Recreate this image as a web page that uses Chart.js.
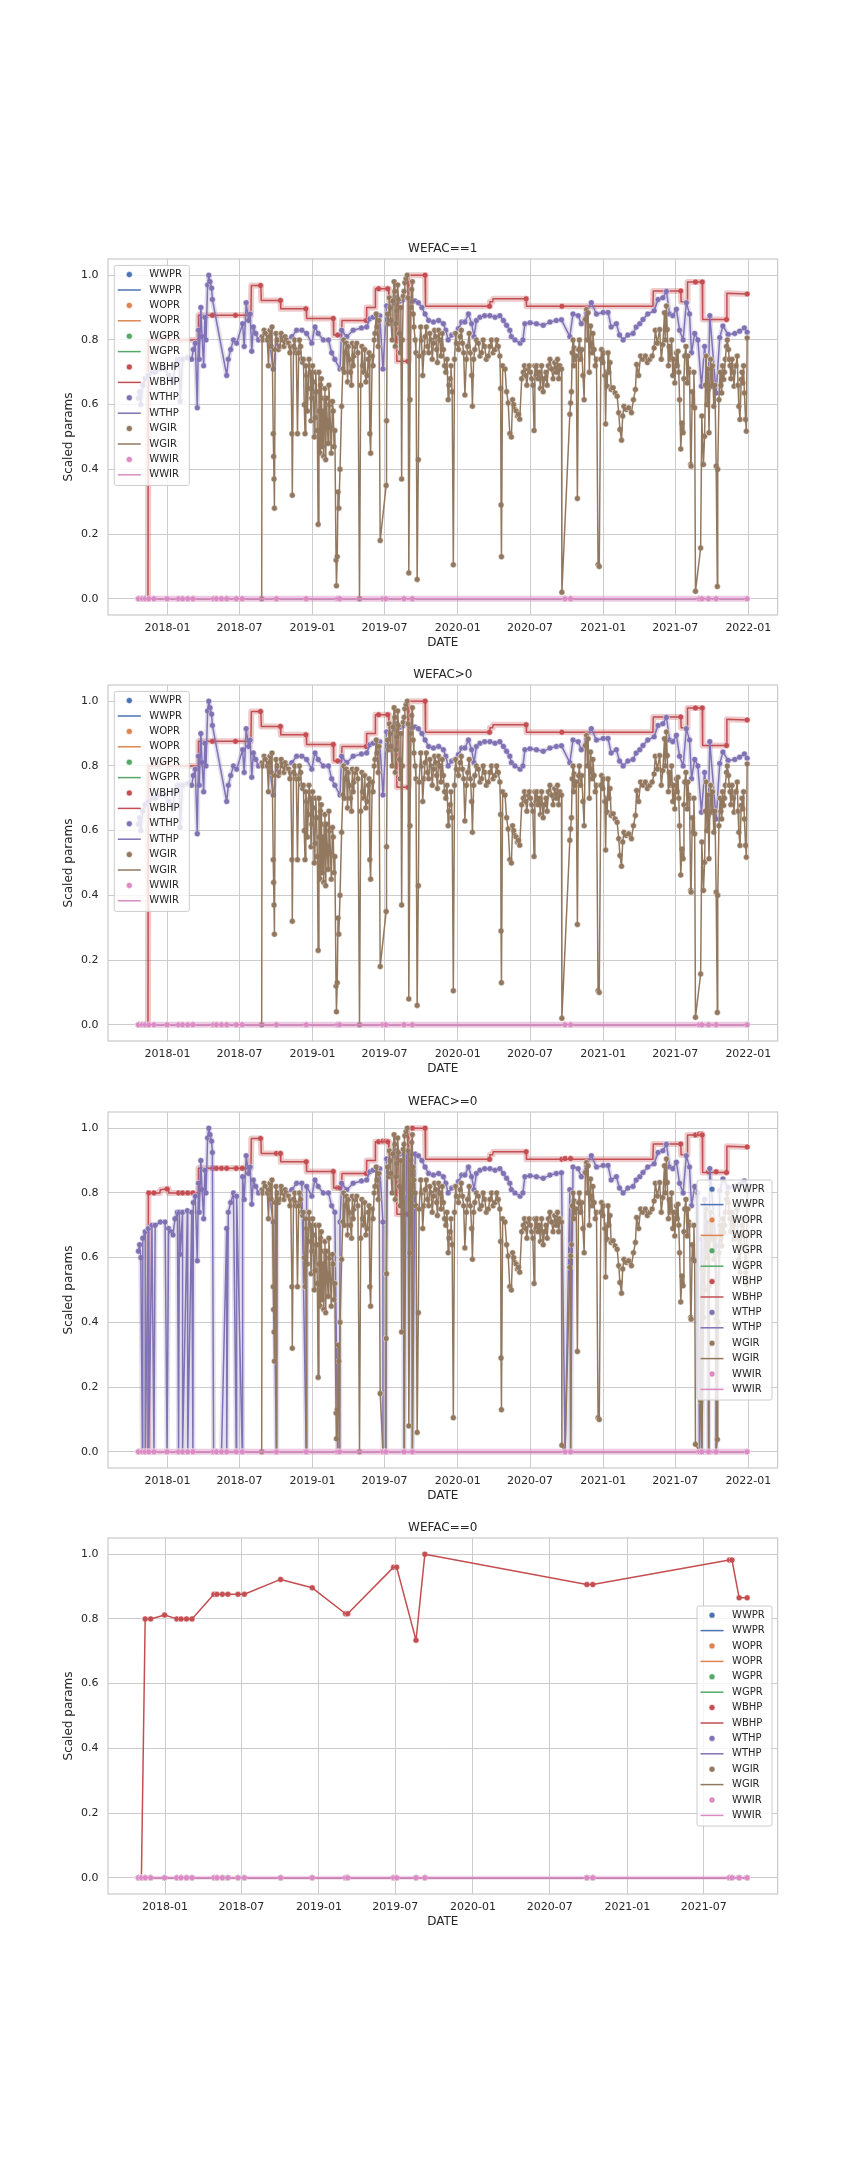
<!DOCTYPE html>
<html>
<head>
<meta charset="utf-8">
<script src="https://cdn.jsdelivr.net/npm/chart.js@4.4.0/dist/chart.umd.min.js"></script>
<style>
  html, body { margin: 0; padding: 0; background: #ffffff; }
  #wrap { position: relative; width: 864px; height: 2160px; background: #ffffff; }
  .panel { position: absolute; left: 0; width: 864px; height: 426px; }
</style>
</head>
<body>
<div id="wrap"></div>
<script>
// --- panels / axes ---
const panelTitles = ['WEFAC==1', 'WEFAC>0', 'WEFAC>=0', 'WEFAC==0'];
const legendLocs = ['upper left', 'upper left', 'center right', 'center right'];
const xTickLabels = ['2018-01', '2018-07', '2019-01', '2019-07', '2020-01', '2020-07', '2021-01', '2021-07', '2022-01'];
const xTickLabelsZero = ['2018-01', '2018-07', '2019-01', '2019-07', '2020-01', '2020-07', '2021-01', '2021-07'];
const yTicks = [0, 0.2, 0.4, 0.6, 0.8, 1.0];

// --- series names and colours (seaborn deep) ---
const seriesNames = ['WWPR', 'WOPR', 'WGPR', 'WBHP', 'WTHP', 'WGIR', 'WWIR'];
const seriesColors = ['#4C72B0', '#DD8452', '#55A868', '#C44E52', '#8172B3', '#937860', '#DA8BC3'];

// --- dates where WEFAC==0 (all rates zero there) ---
const zeroDates = ['2017-10-30', '2017-11-06', '2017-11-15', '2017-11-28', '2017-12-31', '2018-01-29', '2018-02-08',
  '2018-02-21', '2018-03-06', '2018-04-27', '2018-05-04', '2018-05-17', '2018-05-30', '2018-06-23', '2018-07-08',
  '2018-10-02', '2018-12-16', '2019-03-05', '2019-03-10', '2019-06-27', '2019-07-04', '2019-08-19', '2019-09-09',
  '2020-09-27', '2020-10-11', '2021-08-31', '2021-09-06', '2021-09-23', '2021-10-12'];
const zeroRates = [0, 0, 0, 0, 0, 0, 0, 0, 0, 0, 0, 0, 0, 0, 0, 0, 0, 0, 0, 0, 0, 0, 0, 0, 0, 0, 0, 0, 0];
const zeroBhp = [0, 0, 0.80, 0.80, 0.812, 0.80, 0.80, 0.80, 0.80, 0.876, 0.876, 0.876, 0.876, 0.876, 0.876,
  0.922, 0.896, 0.816, 0.816, 0.96, 0.96, 0.734, 1.0, 0.906, 0.906, 0.982, 0.982, 0.865, 0.865];

// zero-rate series on WEFAC>0 panels (start and end of record)
const rateEnds = [['2017-10-20', 0], ['2021-12-29', 0]];

// --- WBHP ---
const wbhpLine = [
  ['2017-10-20', 0], ['2017-11-13', 0], ['2017-11-14', 0.80], ['2017-12-13', 0.80], ['2017-12-14', 0.81],
  ['2018-01-03', 0.813], ['2018-01-04', 0.80], ['2018-03-19', 0.80], ['2018-03-20', 0.876], ['2018-07-30', 0.876],
  ['2018-07-31', 0.968], ['2018-08-24', 0.968], ['2018-08-25', 0.922], ['2018-10-12', 0.922], ['2018-10-13', 0.896],
  ['2018-12-16', 0.896], ['2018-12-17', 0.866], ['2019-02-22', 0.866], ['2019-02-23', 0.815], ['2019-03-15', 0.815],
  ['2019-03-16', 0.86], ['2019-05-16', 0.86], ['2019-05-17', 0.90], ['2019-06-07', 0.90], ['2019-06-08', 0.958],
  ['2019-07-11', 0.958], ['2019-07-12', 0.922], ['2019-07-31', 0.922], ['2019-08-01', 0.734], ['2019-08-30', 0.734],
  ['2019-08-31', 1.0], ['2019-10-11', 1.0], ['2019-10-12', 0.904], ['2020-03-21', 0.904], ['2020-03-22', 0.918],
  ['2020-03-29', 0.918], ['2020-03-30', 0.927], ['2020-06-21', 0.927], ['2020-06-22', 0.904], ['2021-05-06', 0.904],
  ['2021-05-07', 0.951], ['2021-07-15', 0.951], ['2021-07-16', 0.918], ['2021-07-31', 0.918], ['2021-08-01', 0.979],
  ['2021-09-07', 0.979], ['2021-09-08', 0.863], ['2021-11-07', 0.863], ['2021-11-08', 0.944], ['2021-12-29', 0.942]
];
const wbhpDots = [
  ['2018-04-24', 0.876], ['2018-06-21', 0.876], ['2018-08-23', 0.968], ['2018-10-12', 0.922], ['2018-12-15', 0.896],
  ['2019-02-22', 0.866], ['2019-03-05', 0.815], ['2019-05-16', 0.86], ['2019-06-16', 0.958], ['2019-07-09', 0.958],
  ['2019-08-29', 0.734], ['2019-10-11', 1.0], ['2020-03-21', 0.904], ['2020-06-21', 0.927], ['2020-09-19', 0.904],
  ['2021-07-15', 0.951], ['2021-08-21', 0.979], ['2021-09-07', 0.979], ['2021-11-07', 0.863], ['2021-12-29', 0.942]
];

// --- WTHP ---
const wthp = [
  ['2017-10-20', 0.62], ['2017-10-23', 0.64], ['2017-10-26', 0.60], ['2017-10-31', 0.66], ['2017-11-06', 0.68],
  ['2017-11-14', 0.69], ['2017-11-23', 0.70], ['2017-12-01', 0.70], ['2017-12-14', 0.71], ['2017-12-26', 0.71],
  ['2018-01-04', 0.69], ['2018-01-10', 0.68], ['2018-01-15', 0.67], ['2018-01-20', 0.72], ['2018-01-26', 0.74],
  ['2018-01-31', 0.74], ['2018-02-02', 0.61], ['2018-02-08', 0.74], ['2018-02-20', 0.745], ['2018-03-03', 0.74],
  ['2018-03-07', 0.77], ['2018-03-12', 0.79], ['2018-03-17', 0.59], ['2018-03-20', 0.83], ['2018-03-22', 0.74],
  ['2018-03-26', 0.90], ['2018-03-29', 0.81], ['2018-04-02', 0.72], ['2018-04-05', 0.87], ['2018-04-08', 0.80],
  ['2018-04-12', 0.97], ['2018-04-15', 1.0], ['2018-04-18', 0.98], ['2018-04-22', 0.96], ['2018-04-24', 0.925],
  ['2018-05-30', 0.69], ['2018-06-03', 0.74], ['2018-06-09', 0.77], ['2018-06-16', 0.80], ['2018-06-24', 0.79],
  ['2018-07-09', 0.85], ['2018-07-13', 0.78], ['2018-07-18', 0.915], ['2018-07-24', 0.86], ['2018-07-28', 0.88],
  ['2018-08-01', 0.765], ['2018-08-05', 0.84], ['2018-08-11', 0.82], ['2018-08-18', 0.80], ['2018-08-30', 0.81],
  ['2018-09-12', 0.82], ['2018-09-24', 0.71], ['2018-10-03', 0.80], ['2018-10-15', 0.81], ['2018-10-28', 0.80],
  ['2018-11-10', 0.81], ['2018-11-22', 0.83], ['2018-12-05', 0.83], ['2018-12-17', 0.82], ['2018-12-30', 0.79],
  ['2019-01-07', 0.84], ['2019-01-15', 0.82], ['2019-01-28', 0.80], ['2019-02-10', 0.80], ['2019-02-18', 0.76],
  ['2019-02-26', 0.74], ['2019-03-11', 0.71], ['2019-03-15', 0.83], ['2019-03-28', 0.81], ['2019-04-13', 0.83],
  ['2019-05-04', 0.837], ['2019-05-17', 0.84], ['2019-05-25', 0.865], ['2019-06-02', 0.87], ['2019-06-11', 0.88],
  ['2019-06-19', 0.875], ['2019-06-27', 0.71], ['2019-07-06', 0.905], ['2019-07-15', 0.90], ['2019-07-23', 0.915],
  ['2019-08-01', 0.93], ['2019-08-09', 0.92], ['2019-08-17', 0.925], ['2019-08-25', 0.93], ['2019-09-07', 0.92],
  ['2019-09-16', 0.92], ['2019-09-24', 0.915], ['2019-10-03', 0.90], ['2019-10-11', 0.88], ['2019-10-20', 0.86],
  ['2019-11-01', 0.855], ['2019-11-14', 0.86], ['2019-11-26', 0.85], ['2019-12-02', 0.83], ['2019-12-08', 0.80],
  ['2019-12-17', 0.815], ['2019-12-25', 0.82], ['2020-01-03', 0.835], ['2020-01-11', 0.855], ['2020-01-19', 0.855],
  ['2020-01-28', 0.88], ['2020-02-05', 0.85], ['2020-02-11', 0.81], ['2020-02-17', 0.86], ['2020-02-26', 0.87],
  ['2020-03-09', 0.875], ['2020-03-22', 0.875], ['2020-04-04', 0.87], ['2020-04-16', 0.875], ['2020-04-25', 0.86],
  ['2020-05-03', 0.845], ['2020-05-11', 0.83], ['2020-05-15', 0.81], ['2020-05-24', 0.80], ['2020-06-06', 0.79],
  ['2020-06-13', 0.80], ['2020-06-18', 0.85], ['2020-07-01', 0.853], ['2020-07-17', 0.85], ['2020-08-03', 0.845],
  ['2020-08-20', 0.855], ['2020-09-05', 0.86], ['2020-09-18', 0.862], ['2020-10-09', 0.81], ['2020-10-17', 0.88],
  ['2020-10-30', 0.875], ['2020-11-07', 0.85], ['2020-11-20', 0.885], ['2020-12-02', 0.915], ['2020-12-15', 0.88],
  ['2021-01-01', 0.885], ['2021-01-13', 0.885], ['2021-01-21', 0.84], ['2021-02-03', 0.85], ['2021-02-11', 0.815],
  ['2021-02-20', 0.80], ['2021-03-04', 0.815], ['2021-03-17', 0.82], ['2021-03-25', 0.84], ['2021-04-03', 0.85],
  ['2021-04-11', 0.863], ['2021-04-23', 0.88], ['2021-05-09', 0.89], ['2021-05-19', 0.925], ['2021-05-31', 0.93],
  ['2021-06-09', 0.95], ['2021-06-17', 0.88], ['2021-06-25', 0.875], ['2021-07-04', 0.895], ['2021-07-12', 0.83],
  ['2021-07-21', 0.80], ['2021-07-29', 0.915], ['2021-08-06', 0.88], ['2021-08-11', 0.76], ['2021-08-19', 0.82],
  ['2021-08-27', 0.80], ['2021-09-05', 0.657], ['2021-09-13', 0.78], ['2021-09-22', 0.647], ['2021-09-26', 0.875],
  ['2021-10-12', 0.636], ['2021-10-21', 0.807], ['2021-10-29', 0.843], ['2021-11-11', 0.817], ['2021-11-28', 0.82],
  ['2021-12-10', 0.827], ['2021-12-22', 0.837], ['2021-12-29', 0.824]
];

// --- WGIR (main readings) ---
const wgir = [
  ['2017-10-20', 0], ['2018-08-26', 0], ['2018-08-27', 0.81], ['2018-09-01', 0.83], ['2018-09-06', 0.82],
  ['2018-09-12', 0.72], ['2018-09-16', 0.83], ['2018-09-21', 0.84], ['2018-09-24', 0.51], ['2018-09-25', 0.44],
  ['2018-09-26', 0.37], ['2018-09-27', 0.28], ['2018-09-29', 0.77], ['2018-10-04', 0.80], ['2018-10-11', 0.78],
  ['2018-10-18', 0.80], ['2018-10-24', 0.81], ['2018-10-30', 0.79], ['2018-11-05', 0.76], ['2018-11-10', 0.51],
  ['2018-11-11', 0.32], ['2018-11-14', 0.78], ['2018-11-19', 0.77], ['2018-11-24', 0.51], ['2018-11-27', 0.76],
  ['2018-12-02', 0.78], ['2018-12-07', 0.73], ['2018-12-13', 0.51], ['2018-12-17', 0.69], ['2018-12-21', 0.65],
  ['2018-12-26', 0.70], ['2018-12-30', 0.62], ['2019-01-03', 0.67], ['2019-01-07', 0.56], ['2019-01-11', 0.64],
  ['2019-01-15', 0.23], ['2019-01-18', 0.58], ['2019-01-21', 0.66], ['2019-01-25', 0.47], ['2019-01-30', 0.62],
  ['2019-02-03', 0.43], ['2019-02-07', 0.55], ['2019-02-11', 0.66], ['2019-02-15', 0.53], ['2019-02-20', 0.61],
  ['2019-02-24', 0.47], ['2019-03-01', 0.12], ['2019-03-02', 0.04], ['2019-03-04', 0.13], ['2019-03-06', 0.33],
  ['2019-03-08', 0.28], ['2019-03-11', 0.40], ['2019-03-15', 0.595], ['2019-03-18', 0.71], ['2019-03-24', 0.76],
  ['2019-03-30', 0.67], ['2019-04-04', 0.74], ['2019-04-09', 0.66], ['2019-04-15', 0.75], ['2019-04-22', 0.79],
  ['2019-04-29', 0], ['2019-05-02', 0.66], ['2019-05-05', 0.78], ['2019-05-10', 0.70], ['2019-05-15', 0.67],
  ['2019-05-21', 0.74], ['2019-05-25', 0.51], ['2019-05-27', 0.45], ['2019-05-31', 0.75], ['2019-06-05', 0.80],
  ['2019-06-10', 0.88], ['2019-06-15', 0.78], ['2019-06-20', 0.18], ['2019-07-05', 0.35], ['2019-07-06', 0.55],
  ['2019-07-11', 0.85], ['2019-07-15', 0.90], ['2019-07-20', 0.80], ['2019-07-25', 0.98], ['2019-07-28', 0.78],
  ['2019-08-01', 0.89], ['2019-08-05', 0.925], ['2019-08-09', 0.76], ['2019-08-13', 0.37], ['2019-08-17', 0.935],
  ['2019-08-21', 0.977], ['2019-08-27', 1.0], ['2019-08-31', 0.08], ['2019-09-03', 0.615], ['2019-09-07', 0.956],
  ['2019-09-11', 0.88], ['2019-09-16', 0.80], ['2019-09-21', 0.06], ['2019-09-24', 0.43], ['2019-09-26', 0.75],
  ['2019-09-30', 0.84], ['2019-10-05', 0.69], ['2019-10-11', 0.81], ['2019-10-17', 0.78], ['2019-10-23', 0.82],
  ['2019-11-01', 0.79], ['2019-11-07', 0.81], ['2019-11-11', 0.73], ['2019-11-17', 0.80], ['2019-11-26', 0.77],
  ['2019-12-02', 0.70], ['2019-12-08', 0.615], ['2019-12-13', 0.68], ['2019-12-18', 0.64], ['2019-12-21', 0.105],
  ['2019-12-24', 0.74], ['2019-12-29', 0.79], ['2020-01-07', 0.81], ['2020-01-13', 0.79], ['2020-01-19', 0.63],
  ['2020-01-23', 0.74], ['2020-01-30', 0.82], ['2020-02-05', 0.69], ['2020-02-07', 0.595], ['2020-02-13', 0.77],
  ['2020-02-22', 0.79], ['2020-03-01', 0.76], ['2020-03-09', 0.78], ['2020-03-18', 0.75], ['2020-03-26', 0.80],
  ['2020-04-04', 0.77], ['2020-04-12', 0.78], ['2020-04-16', 0.75], ['2020-04-18', 0.65], ['2020-04-19', 0.29],
  ['2020-04-20', 0.13], ['2020-04-23', 0.72], ['2020-04-29', 0.71], ['2020-05-03', 0.64], ['2020-05-07', 0.605],
  ['2020-05-11', 0.51], ['2020-05-15', 0.50], ['2020-05-18', 0.615], ['2020-05-24', 0.585], ['2020-05-30', 0.565],
  ['2020-06-05', 0.555], ['2020-06-10', 0.68], ['2020-06-14', 0.70], ['2020-06-20', 0.69], ['2020-06-26', 0.71],
  ['2020-07-05', 0.68], ['2020-07-11', 0.52], ['2020-07-16', 0.69], ['2020-07-21', 0.68], ['2020-07-27', 0.65],
  ['2020-08-03', 0.64], ['2020-08-10', 0.70], ['2020-08-16', 0.72], ['2020-08-24', 0.71], ['2020-09-01', 0.73],
  ['2020-09-05', 0.70], ['2020-09-11', 0.68], ['2020-09-18', 0.71], ['2020-09-19', 0.02], ['2020-10-09', 0.57],
  ['2020-10-11', 0.605], ['2020-10-13', 0.64], ['2020-10-15', 0.76], ['2020-10-20', 0.775], ['2020-10-23', 0.74],
  ['2020-10-25', 0.75], ['2020-10-28', 0.31], ['2020-10-31', 0.77], ['2020-11-05', 0.74], ['2020-11-11', 0.69],
  ['2020-11-14', 0.615], ['2020-11-17', 0.863], ['2020-11-20', 0.894], ['2020-11-24', 0.884], ['2020-11-27', 0.70],
  ['2020-11-30', 0.843], ['2020-12-04', 0.76], ['2020-12-09', 0.77], ['2020-12-15', 0.74], ['2020-12-19', 0.105],
  ['2020-12-22', 0.10], ['2020-12-26', 0.74], ['2020-12-31', 0.73], ['2021-01-05', 0.69], ['2021-01-07', 0.54],
  ['2021-01-11', 0.657], ['2021-01-15', 0.70], ['2021-01-18', 0.73], ['2021-01-21', 0.647], ['2021-01-26', 0.652],
  ['2021-01-31', 0.636], ['2021-02-05', 0.626], ['2021-02-09', 0.575], ['2021-02-12', 0.523], ['2021-02-16', 0.49],
  ['2021-02-19', 0.565], ['2021-02-22', 0.595], ['2021-02-28', 0.585], ['2021-03-06', 0.59], ['2021-03-13', 0.575],
  ['2021-03-18', 0.615], ['2021-03-23', 0.647], ['2021-03-26', 0.724], ['2021-03-31', 0.69], ['2021-04-05', 0.75],
  ['2021-04-11', 0.74], ['2021-04-17', 0.75], ['2021-04-22', 0.73], ['2021-04-28', 0.74], ['2021-05-04', 0.75],
  ['2021-05-09', 0.775], ['2021-05-12', 0.83], ['2021-05-17', 0.79], ['2021-05-23', 0.832], ['2021-05-27', 0.74],
  ['2021-05-31', 0.786], ['2021-06-04', 0.884], ['2021-06-09', 0.905], ['2021-06-11', 0.832], ['2021-06-14', 0.72],
  ['2021-06-19', 0.74], ['2021-06-25', 0.69], ['2021-06-30', 0.667], ['2021-07-04', 0.76], ['2021-07-08', 0.765],
  ['2021-07-12', 0.615], ['2021-07-15', 0.463], ['2021-07-18', 0.543], ['2021-07-21', 0.513], ['2021-07-25', 0.75],
  ['2021-07-28', 0.78], ['2021-07-31', 0.667], ['2021-08-04', 0.71], ['2021-08-06', 0.70], ['2021-08-09', 0.415],
  ['2021-08-10', 0.41], ['2021-08-15', 0.595], ['2021-08-19', 0.59], ['2021-08-21', 0.023], ['2021-09-03', 0.157],
  ['2021-09-06', 0.565], ['2021-09-10', 0.415], ['2021-09-13', 0.502], ['2021-09-17', 0.75], ['2021-09-21', 0.71],
  ['2021-09-24', 0.513], ['2021-09-28', 0.74], ['2021-10-01', 0.657], ['2021-10-06', 0.595], ['2021-10-12', 0.41],
  ['2021-10-15', 0.038], ['2021-10-16', 0.40], ['2021-10-19', 0.615], ['2021-10-22', 0.70], ['2021-10-26', 0.636],
  ['2021-10-31', 0.678], ['2021-11-04', 0.74], ['2021-11-09', 0.80], ['2021-11-12', 0.77], ['2021-11-16', 0.72],
  ['2021-11-21', 0.74], ['2021-11-26', 0.657], ['2021-11-29', 0.72], ['2021-12-04', 0.75], ['2021-12-08', 0.595],
  ['2021-12-11', 0.554], ['2021-12-14', 0.678], ['2021-12-18', 0.667], ['2021-12-22', 0.636], ['2021-12-25', 0.554],
  ['2021-12-27', 0.518], ['2021-12-29', 0.806]
];

// --- WGIR (extra readings in the dense stretches) ---
const wgirDense = [
  ['2018-08-29', 0.80], ['2018-09-03', 0.82], ['2018-09-09', 0.80], ['2018-09-14', 0.81], ['2018-09-19', 0.78],
  ['2018-10-01', 0.82], ['2018-10-07', 0.77], ['2018-10-14', 0.82], ['2018-10-21', 0.78], ['2018-10-27', 0.80],
  ['2018-11-02', 0.79], ['2018-11-07', 0.78], ['2018-11-17', 0.80], ['2018-11-21', 0.76], ['2018-11-29', 0.80],
  ['2018-12-04', 0.74], ['2018-12-09', 0.74], ['2018-12-11', 0.60], ['2018-12-15', 0.72], ['2018-12-19', 0.58],
  ['2018-12-23', 0.74], ['2018-12-28', 0.55], ['2019-01-01', 0.72], ['2019-01-05', 0.50], ['2019-01-09', 0.70],
  ['2019-01-13', 0.52], ['2019-01-17', 0.70], ['2019-01-20', 0.45], ['2019-01-23', 0.68], ['2019-01-27', 0.58],
  ['2019-01-29', 0.44], ['2019-02-01', 0.65], ['2019-02-05', 0.62], ['2019-02-09', 0.48], ['2019-02-13', 0.60],
  ['2019-02-17', 0.45], ['2019-02-22', 0.58], ['2019-02-26', 0.52], ['2019-03-20', 0.80], ['2019-03-22', 0.70],
  ['2019-03-27', 0.79], ['2019-04-01', 0.78], ['2019-04-06', 0.70], ['2019-04-11', 0.79], ['2019-04-13', 0.72],
  ['2019-04-18', 0.78], ['2019-04-25', 0.76], ['2019-05-07', 0.72], ['2019-05-12', 0.77], ['2019-05-18', 0.69],
  ['2019-05-23', 0.76], ['2019-06-02', 0.72], ['2019-06-07', 0.82], ['2019-06-12', 0.84], ['2019-06-17', 0.86],
  ['2019-07-08', 0.88], ['2019-07-13', 0.93], ['2019-07-17', 0.86], ['2019-07-22', 0.92], ['2019-07-27', 0.95],
  ['2019-07-30', 0.85], ['2019-08-03', 0.97], ['2019-08-07', 0.82], ['2019-08-11', 0.90], ['2019-08-15', 0.80],
  ['2019-08-19', 0.95], ['2019-08-24', 0.99], ['2019-08-29', 0.93], ['2019-09-05', 0.90], ['2019-09-09', 0.98],
  ['2019-09-13', 0.84], ['2019-09-18', 0.76], ['2019-10-02', 0.80], ['2019-10-08', 0.76], ['2019-10-14', 0.84],
  ['2019-10-20', 0.76], ['2019-10-26', 0.80], ['2019-10-29', 0.74], ['2019-11-04', 0.83], ['2019-11-09', 0.77],
  ['2019-11-14', 0.83], ['2019-11-20', 0.75], ['2019-11-23', 0.82], ['2019-11-29', 0.72], ['2019-12-05', 0.74],
  ['2019-12-10', 0.66], ['2019-12-15', 0.72], ['2019-12-27', 0.82], ['2020-01-03', 0.77], ['2020-01-10', 0.83],
  ['2020-01-16', 0.76], ['2020-01-26', 0.78], ['2020-02-02', 0.76], ['2020-02-10', 0.74], ['2020-02-17', 0.80],
  ['2020-02-26', 0.75], ['2020-03-05', 0.80], ['2020-03-13', 0.74], ['2020-03-22', 0.78], ['2020-03-30', 0.76],
  ['2020-04-08', 0.80], ['2020-05-21', 0.60], ['2020-05-27', 0.58], ['2020-06-02', 0.57], ['2020-06-17', 0.72],
  ['2020-06-23', 0.66], ['2020-06-29', 0.72], ['2020-07-02', 0.70], ['2020-07-08', 0.66], ['2020-07-13', 0.72],
  ['2020-07-18', 0.72], ['2020-07-24', 0.70], ['2020-07-30', 0.72], ['2020-08-06', 0.68], ['2020-08-13', 0.66],
  ['2020-08-20', 0.74], ['2020-08-28', 0.68], ['2020-09-08', 0.74], ['2020-09-14', 0.72], ['2020-10-17', 0.80],
  ['2020-10-19', 0.72], ['2020-11-02', 0.80], ['2020-11-08', 0.77], ['2020-11-22', 0.80], ['2020-12-01', 0.79],
  ['2020-12-06', 0.82], ['2020-12-12', 0.72], ['2020-12-28', 0.77], ['2021-01-02', 0.76], ['2021-01-09', 0.70],
  ['2021-01-13', 0.76], ['2021-06-06', 0.80], ['2021-06-16', 0.78], ['2021-06-22', 0.80], ['2021-06-27', 0.74],
  ['2021-07-02', 0.72], ['2021-07-06', 0.72], ['2021-07-10', 0.70], ['2021-07-23', 0.68], ['2021-08-02', 0.75],
  ['2021-08-13', 0.64], ['2021-08-17', 0.70], ['2021-09-15', 0.66], ['2021-09-19', 0.60], ['2021-09-26', 0.66],
  ['2021-10-03', 0.72], ['2021-10-09', 0.66], ['2021-10-24', 0.66], ['2021-10-28', 0.72], ['2021-11-02', 0.70],
  ['2021-11-07', 0.78], ['2021-11-14', 0.74], ['2021-11-18', 0.68], ['2021-11-24', 0.70], ['2021-12-01', 0.72],
  ['2021-12-06', 0.66], ['2021-12-16', 0.70], ['2021-12-20', 0.72]
];

// --- layout of the figure (matplotlib subplot boxes) ---
const AX_LEFT = 108, AX_RIGHT = 777.6;
const AX_TOPS = [258.6, 685.1, 1111.6, 1538.1];
const PAD_TOP = 30, X_AXIS_H = 40;
const FONT = 'DejaVu Sans';
const TEXT = '#262626', GRID = '#cccccc';

function dayNum(s) {
  const [y, m, d] = s.split('-').map(Number);
  return Date.UTC(y, m - 1, d) / 86400000;
}
function pts(pairs) { return pairs.map(p => ({ x: dayNum(p[0]), y: p[1] })); }
function pairsOf(dates, values) { return dates.map((d, i) => [d, values[i]]); }
function merge(a, b) { return a.concat(b).sort((p, q) => dayNum(p[0]) - dayNum(q[0])); }

function dotSet(color, pairs) {
  return { data: pts(pairs), showLine: false, pointRadius: 3, pointHoverRadius: 0,
    pointBackgroundColor: color, pointBorderColor: '#ffffff', pointBorderWidth: 0.5 };
}
function lineSet(color, pairs) {
  return { data: pts(pairs), showLine: true, borderColor: color, borderWidth: 1.5,
    borderJoinStyle: 'round', pointRadius: 0, pointHoverRadius: 0, fill: false };
}
function bandSet(color, pairs, width) {
  return { data: pts(pairs), showLine: true, borderColor: color, borderWidth: width,
    borderJoinStyle: 'round', pointRadius: 0, pointHoverRadius: 0, fill: false };
}

const zeroPairs = pairsOf(zeroDates, zeroRates);
const wwirDots = merge(rateEnds, zeroPairs);
const wgirAll = merge(wgir, wgirDense);
const [cWWPR, cWOPR, cWGPR, cWBHP, cWTHP, cWGIR, cWWIR] = seriesColors;

// seaborn draw order (first drawn first)
function activeSets(thp, gir, bhpDots) {
  return [
    dotSet(cWWPR, wwirDots), lineSet(cWWPR, rateEnds),
    dotSet(cWOPR, wwirDots), lineSet(cWOPR, rateEnds),
    dotSet(cWGPR, wwirDots), lineSet(cWGPR, rateEnds),
    bandSet('rgba(196,78,82,0.3)', wbhpLine, 6), dotSet(cWBHP, bhpDots), lineSet(cWBHP, wbhpLine),
    bandSet('rgba(129,114,179,0.22)', thp, 5), dotSet(cWTHP, thp), lineSet(cWTHP, thp),
    dotSet(cWGIR, gir), lineSet(cWGIR, gir),
    bandSet('rgba(218,139,195,0.45)', rateEnds, 6), dotSet(cWWIR, wwirDots), lineSet(cWWIR, rateEnds)
  ];
}
function zeroPanelSets() {
  const bhp = pairsOf(zeroDates, zeroBhp);
  return [
    dotSet(cWWPR, zeroPairs), lineSet(cWWPR, zeroPairs),
    dotSet(cWOPR, zeroPairs), lineSet(cWOPR, zeroPairs),
    dotSet(cWGPR, zeroPairs), lineSet(cWGPR, zeroPairs),
    dotSet(cWBHP, bhp), lineSet(cWBHP, bhp),
    dotSet(cWTHP, zeroPairs), lineSet(cWTHP, zeroPairs),
    dotSet(cWGIR, zeroPairs), lineSet(cWGIR, zeroPairs),
    bandSet('rgba(218,139,195,0.35)', zeroPairs, 4), dotSet(cWWIR, zeroPairs), lineSet(cWWIR, zeroPairs)
  ];
}

const panelSets = [
  activeSets(wthp, wgirAll, wbhpDots),
  activeSets(wthp, wgirAll, wbhpDots),
  activeSets(merge(wthp, zeroPairs), merge(wgirAll, zeroPairs), merge(wbhpDots, pairsOf(zeroDates, zeroBhp))),
  zeroPanelSets()
];

// matplotlib-style x limits: data range plus 5% margins
function xLimits(first, last) {
  const a = dayNum(first), b = dayNum(last), m = (b - a) * 0.05;
  return { min: a - m, max: b + m };
}
const panelX = [
  xLimits(rateEnds[0][0], rateEnds[1][0]),
  xLimits(rateEnds[0][0], rateEnds[1][0]),
  xLimits(rateEnds[0][0], rateEnds[1][0]),
  xLimits(zeroDates[0], zeroDates[zeroDates.length - 1])
];
const panelTickLabels = [xTickLabels, xTickLabels, xTickLabels, xTickLabelsZero];

// --- plugins: title, frame, legend ---
const panelTitle = {
  id: 'panelTitle',
  afterDraw(chart, args, opts) {
    const { ctx, chartArea: a } = chart;
    ctx.save();
    ctx.font = '12px "' + FONT + '"';
    ctx.fillStyle = TEXT;
    ctx.textAlign = 'center';
    ctx.textBaseline = 'middle';
    ctx.fillText(opts.text, (a.left + a.right) / 2, a.top - 10);
    ctx.restore();
  }
};
const frame = {
  id: 'frame',
  afterDatasetsDraw(chart) {
    const { ctx, chartArea: a } = chart;
    ctx.save();
    ctx.strokeStyle = GRID;
    ctx.lineWidth = 1.25;
    ctx.strokeRect(a.left, a.top, a.right - a.left, a.bottom - a.top);
    ctx.restore();
  }
};
const mplLegend = {
  id: 'mplLegend',
  afterDraw(chart, args, opts) {
    const { ctx, chartArea: a } = chart;
    const w = 75, h = 220, row = 15.4;
    let left, top;
    if (opts.loc === 'upper left') {
      left = a.left + 6.3; top = a.top + 6.4;
    } else {
      left = a.right - 5.6 - w; top = (a.top + a.bottom) / 2 - h / 2;
    }
    ctx.save();
    ctx.beginPath();
    ctx.roundRect(left, top, w, h, 2);
    ctx.fillStyle = 'rgba(255,255,255,0.8)';
    ctx.fill();
    ctx.strokeStyle = GRID;
    ctx.lineWidth = 1;
    ctx.stroke();
    ctx.font = '10px "' + FONT + '"';
    ctx.textAlign = 'left';
    ctx.textBaseline = 'middle';
    seriesNames.forEach((name, i) => {
      const col = seriesColors[i];
      const yDot = top + 9.2 + row * 2 * i;
      const yLine = yDot + row;
      ctx.beginPath();
      ctx.arc(left + 15, yDot, 3, 0, Math.PI * 2);
      ctx.fillStyle = col;
      ctx.fill();
      ctx.strokeStyle = '#ffffff';
      ctx.lineWidth = 0.5;
      ctx.stroke();
      ctx.beginPath();
      ctx.moveTo(left + 3.5, yLine);
      ctx.lineTo(left + 26.5, yLine);
      ctx.strokeStyle = col;
      ctx.lineWidth = 1.5;
      ctx.stroke();
      ctx.fillStyle = TEXT;
      ctx.fillText(name, left + 35, yDot);
      ctx.fillText(name, left + 35, yLine);
    });
    ctx.restore();
  }
};

// --- build the four panels ---
const wrap = document.getElementById('wrap');
panelTitles.forEach((title, p) => {
  const box = document.createElement('div');
  box.className = 'panel';
  box.style.top = (AX_TOPS[p] - PAD_TOP) + 'px';
  const canvas = document.createElement('canvas');
  box.appendChild(canvas);
  wrap.appendChild(box);

  const labels = panelTickLabels[p];
  const tickVals = labels.map(l => dayNum(l + '-01'));

  new Chart(canvas, {
    type: 'scatter',
    data: { datasets: panelSets[p].slice().reverse() },
    options: {
      responsive: true,
      maintainAspectRatio: false,
      animation: false,
      events: [],
      layout: { padding: { left: 0, right: 864 - AX_RIGHT, top: PAD_TOP, bottom: 0 } },
      plugins: {
        legend: { display: false },
        tooltip: { enabled: false },
        panelTitle: { text: title },
        mplLegend: { loc: legendLocs[p] }
      },
      scales: {
        x: {
          type: 'linear',
          min: panelX[p].min,
          max: panelX[p].max,
          afterBuildTicks: s => { s.ticks = tickVals.map(v => ({ value: v })); },
          afterFit: s => { s.height = X_AXIS_H; },
          border: { display: false },
          grid: { color: GRID, lineWidth: 1, drawTicks: false },
          ticks: {
            autoSkip: false, maxRotation: 0, padding: 6.4, color: TEXT,
            font: { family: FONT, size: 11 },
            callback: (v, i) => labels[i]
          },
          title: { display: true, text: 'DATE', color: TEXT, font: { family: FONT, size: 12 },
            padding: { top: 0, bottom: 4.8 } }
        },
        y: {
          type: 'linear',
          min: -0.05,
          max: 1.05,
          afterBuildTicks: s => { s.ticks = yTicks.map(v => ({ value: v })); },
          afterFit: s => { s.width = AX_LEFT; },
          border: { display: false },
          grid: { color: GRID, lineWidth: 1, drawTicks: false },
          ticks: {
            padding: 9.4, color: TEXT, font: { family: FONT, size: 11 },
            callback: v => v.toFixed(1)
          },
          title: { display: true, text: 'Scaled params', color: TEXT, font: { family: FONT, size: 12 },
            padding: { top: 61.8, bottom: 0 } }
        }
      }
    },
    plugins: [panelTitle, frame, mplLegend]
  });
});
</script>
</body>
</html>
